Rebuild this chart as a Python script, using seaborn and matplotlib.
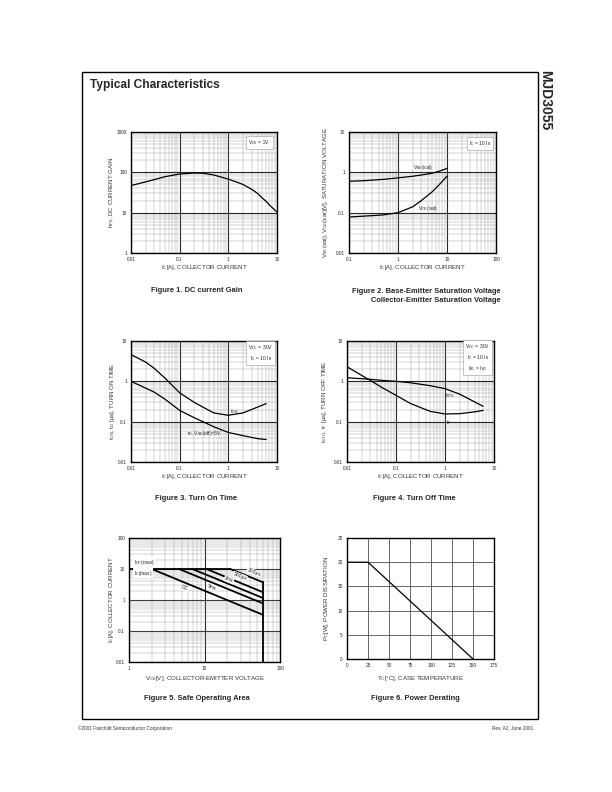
import numpy as np
import pandas as pd
import matplotlib
matplotlib.use("Agg")
import matplotlib.pyplot as plt
import seaborn as sns
from matplotlib.ticker import FixedLocator, LogLocator, NullFormatter

# Figure 1: DC current gain (VCE = 2V)
hfe_ic = [0.01, 0.02, 0.03, 0.05, 0.1, 0.2, 0.3, 0.5, 1, 1.5, 2, 3, 4, 5, 6, 7, 8, 10]
hfe = [47, 58, 66, 78, 91, 96, 95, 86, 68, 57, 50, 38, 30, 23, 19, 15.5, 13.3, 10.4]

# Figure 2: saturation voltages (IC = 10 IB)
sat_ic = [0.1, 0.2, 0.5, 1, 2, 3, 5, 7, 10]
vbe_sat = [0.6, 0.62, 0.67, 0.73, 0.8, 0.86, 0.95, 1.07, 1.25]
vce_sat = [0.078, 0.082, 0.088, 0.1, 0.14, 0.2, 0.33, 0.5, 0.8]

# Figure 3: turn on time
on_ic = [0.01, 0.02, 0.03, 0.05, 0.1, 0.2, 0.3, 0.5, 1, 2, 4, 6]
t_on = [4.6, 3.0, 2.1, 1.2, 0.52, 0.3, 0.23, 0.165, 0.144, 0.165, 0.23, 0.28]
t_d = [1.0, 0.68, 0.54, 0.36, 0.19, 0.125, 0.1, 0.075, 0.054, 0.045, 0.038, 0.036]

# Figure 4: turn off time
off_ic = [0.01, 0.02, 0.03, 0.05, 0.1, 0.2, 0.5, 1, 2, 4, 6]
t_stg = [1.23, 1.16, 1.12, 1.06, 1.0, 0.92, 0.78, 0.66, 0.48, 0.31, 0.24]
t_f = [2.3, 1.4, 1.05, 0.72, 0.45, 0.28, 0.18, 0.155, 0.158, 0.175, 0.19]

# Figure 5: safe operating area
soa_names = ["100\u00b5s", "500\u00b5s", "1ms", "5ms", "DC"]
soa_vstart = [22, 10.6, 6.9, 4.6, 2.0]
soa_iend = [3.7, 1.77, 1.15, 0.77, 0.33]
soa_vmax = 60
soa_imax = 10

# Figure 6: power derating
tc = [0, 25, 150]
pc = [20, 20, 0]

log_labels = {0.01: "0.01", 0.1: "0.1", 1: "1", 10: "10", 100: "100", 1000: "1000"}

W, H = 612, 792
sns.set_theme(style="white")
plt.rcParams["font.family"] = ["Liberation Sans", "DejaVu Sans"]
plt.rcParams["mathtext.default"] = "regular"

fig = plt.figure(figsize=(W / 100, H / 100), dpi=100)


def px_axes(x0, y0, x1, y1):
    return fig.add_axes([x0 / W, 1 - y1 / H, (x1 - x0) / W, (y1 - y0) / H])


def ftext(x, y, s, **kw):
    fig.text(x / W, 1 - y / H, s, **kw)


def style_frame(ax):
    ax.tick_params(which="both", length=0, labelsize=3.4, pad=3, colors="0.15")
    for sp in ax.spines.values():
        sp.set_color("black")
        sp.set_linewidth(1.0)
    ax.set_axisbelow(True)


def log_grid(ax, xlim, ylim):
    ax.set_xscale("log")
    ax.set_yscale("log")
    ax.set_xlim(xlim)
    ax.set_ylim(ylim)
    for axis, lim in ((ax.xaxis, xlim), (ax.yaxis, ylim)):
        decs = [v for v in log_labels if lim[0] * 0.99 <= v <= lim[1] * 1.01]
        axis.set_major_locator(FixedLocator(decs))
        axis.set_minor_locator(LogLocator(10, subs=np.arange(2, 10), numticks=20))
        axis.set_minor_formatter(NullFormatter())
    ax.set_xticklabels([log_labels[v] for v in ax.get_xticks()])
    ax.set_yticklabels([log_labels[v] for v in ax.get_yticks()])
    ax.grid(which="major", color="0.15", lw=0.8)
    ax.grid(which="minor", color="0.6", lw=0.3)
    style_frame(ax)


def labels(ax, xl, yl, xpos, ypos):
    ax.set_xlabel(xl, fontsize=4.4, color="0.2")
    ax.set_ylabel(yl, fontsize=4.4, color="0.2")
    ax.xaxis.set_label_coords(0.5, xpos)
    ax.yaxis.set_label_coords(ypos, 0.5)
    ax.xaxis.label.set_va("center")
    ax.yaxis.label.set_va("center")


def note(ax, x, y, s):
    ax.text(x, y, s, transform=ax.transAxes, fontsize=3.6, ha="center", va="center",
            linespacing=1.35, color="0.15",
            bbox=dict(facecolor="white", edgecolor="0.6", lw=0.4, pad=1.4))


line_kw = dict(color="black", lw=0.9, estimator=None, sort=False, legend=False)

# ---- Figure 1
ax1 = px_axes(131, 132, 277, 253)
log_grid(ax1, (0.01, 10), (1, 1000))
sns.lineplot(x=hfe_ic, y=hfe, ax=ax1, **line_kw)
labels(ax1, "I$_C$[A], COLLECTOR CURRENT", "h$_{FE}$, DC CURRENT GAIN", -0.116, -0.13)
note(ax1, 0.88, 0.91, "V$_{CE}$ = 2V")

# ---- Figure 2
ax2 = px_axes(349, 132, 496, 253)
log_grid(ax2, (0.1, 100), (0.01, 10))
sns.lineplot(x=sat_ic, y=vbe_sat, ax=ax2, **line_kw)
sns.lineplot(x=sat_ic, y=vce_sat, ax=ax2, **line_kw)
labels(ax2, "I$_C$[A], COLLECTOR CURRENT",
       "V$_{BE}$(sat), V$_{CE}$(sat)[V], SATURATION VOLTAGE", -0.116, -0.163)
note(ax2, 0.89, 0.905, "I$_C$ = 10 I$_B$")
ax2.text(3.2, 1.3, "V$_{BE}$(sat)", fontsize=3.6, ha="center", va="center", color="0.15")
ax2.text(4.1, 0.13, "V$_{CE}$(sat)", fontsize=3.6, ha="center", va="center", color="0.15")

# ---- Figure 3
ax3 = px_axes(131, 341, 277, 462)
log_grid(ax3, (0.01, 10), (0.01, 10))
sns.lineplot(x=on_ic, y=t_on, ax=ax3, **line_kw)
sns.lineplot(x=on_ic, y=t_d, ax=ax3, **line_kw)
labels(ax3, "I$_C$[A], COLLECTOR CURRENT", "t$_{ON}$, t$_D$ [\u00b5s], TURN ON TIME", -0.116, -0.13)
note(ax3, 0.89, 0.9, "V$_{CC}$ = 30V\nI$_C$ = 10 I$_B$")
ax3.text(1.3, 0.18, "t$_{ON}$", fontsize=3.6, ha="center", va="center", color="0.15")
ax3.text(0.14, 0.05, "t$_D$, V$_{BE}$(off)=5V", fontsize=3.6, ha="left", va="center", color="0.15")

# ---- Figure 4
ax4 = px_axes(347, 341, 494, 462)
log_grid(ax4, (0.01, 10), (0.01, 10))
sns.lineplot(x=off_ic, y=t_stg, ax=ax4, **line_kw)
sns.lineplot(x=off_ic, y=t_f, ax=ax4, **line_kw)
labels(ax4, "I$_C$[A], COLLECTOR CURRENT", "t$_{STG}$, t$_F$ [\u00b5s], TURN OFF TIME", -0.116, -0.15)
note(ax4, 0.89, 0.865, "V$_{CC}$ = 30V\nI$_C$ = 10 I$_B$\nI$_{B1}$ = I$_{B2}$")
ax4.text(1.3, 0.44, "t$_{STG}$", fontsize=3.6, ha="center", va="center", color="0.15")
ax4.text(1.2, 0.095, "t$_F$", fontsize=3.6, ha="center", va="center", color="0.15")

# ---- Figure 5
ax5 = px_axes(129, 538, 280, 662)
log_grid(ax5, (1, 100), (0.01, 100))
soa_kw = dict(line_kw, lw=1.3)
sns.lineplot(x=[1, max(soa_vstart)], y=[soa_imax, soa_imax], ax=ax5, **soa_kw)
for vs, ie in zip(soa_vstart, soa_iend):
    sns.lineplot(x=[vs, soa_vmax], y=[soa_imax, ie], ax=ax5, **soa_kw)
sns.lineplot(x=[soa_vmax, soa_vmax], y=[soa_iend[0], 0.01], ax=ax5, **soa_kw)
soa_lab_x = [45, 29.5, 21, 12.6, 5.5]
soa_lab_y = [7.9, 5.9, 4.5, 2.6, 2.4]
for name, lx, ly in zip(soa_names, soa_lab_x, soa_lab_y):
    ax5.text(lx, ly, name, fontsize=3.6, rotation=-22, ha="center", va="center", color="0.15",
             bbox=dict(facecolor="white", edgecolor="none", pad=0.3))
ax5.text(1.15, 16.8, "I$_{CP}$(max)", fontsize=3.6, ha="left", va="center", color="0.15",
         bbox=dict(facecolor="white", edgecolor="none", pad=0.3))
ax5.text(1.15, 7.4, "I$_C$(max)", fontsize=3.6, ha="left", va="center", color="0.15",
         bbox=dict(facecolor="white", edgecolor="none", pad=0.3))
labels(ax5, "V$_{CE}$[V], COLLECTOR-EMITTER VOLTAGE", "I$_C$[A], COLLECTOR CURRENT", -0.137, -0.113)

# ---- Figure 6
ax6 = px_axes(347, 538, 494, 659)
ax6.set_xlim(0, 175)
ax6.set_ylim(0, 25)
ax6.set_xticks(np.arange(0, 176, 25))
ax6.set_yticks(np.arange(0, 26, 5))
ax6.grid(color="0.3", lw=0.6)
style_frame(ax6)
sns.lineplot(x=tc, y=pc, ax=ax6, **line_kw)
labels(ax6, "T$_C$[\u00b0C], CASE TEMPERATURE", "P$_C$[W], POWER DISSIPATION", -0.165, -0.14)

# ---- page text
fig.add_artist(plt.Rectangle((81.5 / W, 1 - 719 / H), (537.5 - 81.5) / W, (719 - 72) / H,
                             transform=fig.transFigure, fill=False, lw=1.0, ec="black"))
ftext(90, 85, "Typical Characteristics", fontsize=8.6, weight="bold", va="center")
ftext(545, 70, "MJD3055", fontsize=10, weight="bold", rotation=-90, ha="center", va="top")

cap_kw = dict(fontsize=5.4, weight="bold", ha="center", va="center")
ftext(197, 291, "Figure 1. DC current Gain", **cap_kw)
ftext(501, 296, "Figure 2. Base-Emitter Saturation Voltage\nCollector-Emitter Saturation Voltage",
      fontsize=5.4, weight="bold", ha="right", va="center", multialignment="right", linespacing=1.25)
ftext(196, 499, "Figure 3. Turn On Time", **cap_kw)
ftext(414, 499, "Figure 4. Turn Off Time", **cap_kw)
ftext(197, 698, "Figure 5. Safe Operating Area", **cap_kw)
ftext(415, 698, "Figure 6. Power Derating", **cap_kw)

ftext(78, 728, "\u00a92001 Fairchild Semiconductor Corporation", fontsize=3.4, va="center", color="0.2")
ftext(533, 728, "Rev. A2, June 2001", fontsize=3.4, ha="right", va="center", color="0.2")

fig.savefig("out.png", dpi=100, facecolor="white")
